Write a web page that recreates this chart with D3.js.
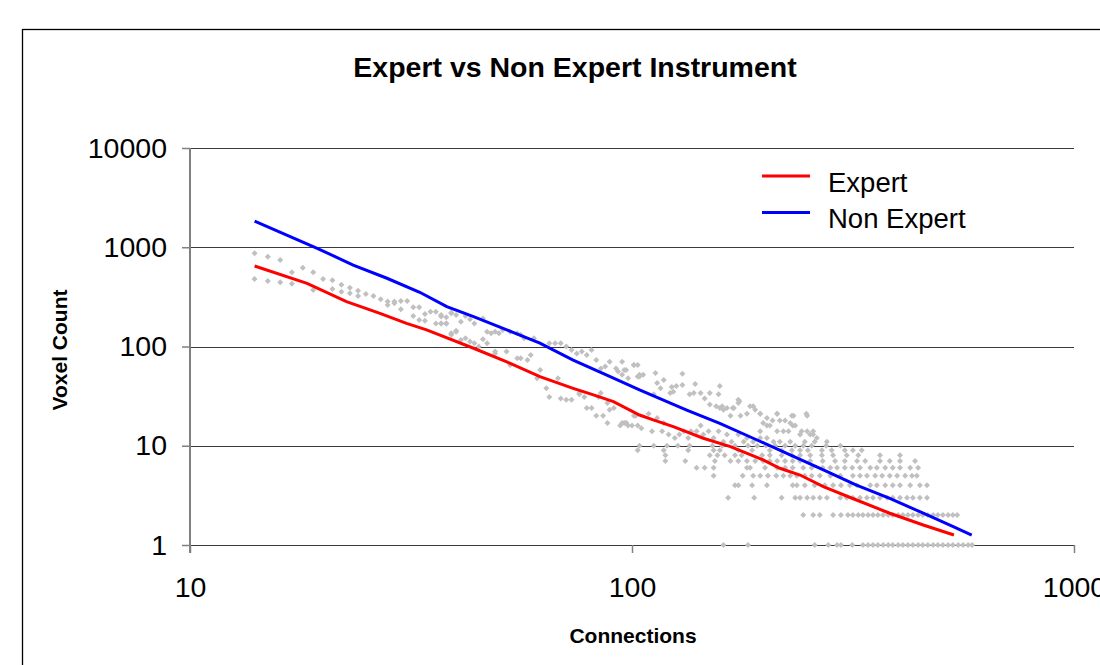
<!DOCTYPE html>
<html>
<head>
<meta charset="utf-8">
<script src="https://cdn.jsdelivr.net/npm/d3@7"></script>
<style>
  html, body { margin: 0; padding: 0; background: #fff; }
  svg { display: block; }
  text { font-family: "Liberation Sans", Arial, sans-serif; }
</style>
</head>
<body>
<svg id="chart" width="1100" height="665"></svg>
<script>
// ---------- DATA ----------
const chartTitle = "Expert vs Non Expert Instrument";
const xTitle = "Connections";
const yTitle = "Voxel Count";
const xTicks = [10, 100, 1000];
const yTicks = [1, 10, 100, 1000, 10000];
const seriesNames = ["Expert", "Non Expert"];

// trend lines
const expertConn = [14, 18.4, 22.6, 26.9, 30.9, 34.3, 43.8, 52.1, 61.9, 73.6, 81.8, 90.8, 104, 111.7, 124, 145, 167, 198, 216, 240, 271, 322, 383, 456, 535];
const expertVox  = [647, 433, 283, 216, 171, 147, 96, 70, 49.6, 37.9, 32.5, 27.8, 20.4, 18.2, 15.6, 11.9, 9.8, 7.2, 5.93, 5.07, 3.87, 2.84, 2.09, 1.59, 1.26];
const nonExpertConn = [14, 19.4, 23.4, 27.9, 33.1, 38.1, 43.8, 52.1, 61.9, 73.6, 87.7, 104, 133, 158, 188, 224, 271, 322, 383, 456, 533, 587];
const nonExpertVox  = [1838, 976, 662, 487, 352, 252, 200, 147, 108, 73, 51.6, 36.5, 22.9, 16.8, 11.9, 8.4, 5.7, 4.02, 2.95, 2.09, 1.53, 1.26];

// raw observations [connections, voxels] (grey diamonds)
const pointsLow = [[14,869],[14,479],[15,803],[15,457],[16,744],[16,443],[17,559],[17,430],[18,622],[19,559],[19,371],[20,479],[21,465],[21,380],[22,420],[22,357],[23,391],[23,344],[24,365],[24,323],[25,338],[26,323],[27,299],[28,262],[28,284],[29,284],[29,273],[30,287],[30,237],[31,287],[32,248],[32,203],[33,248],[33,185],[34,182],[34,212],[35,224],[36,224],[36,171],[37,171],[37,200],[38,171],[38,197],[39,219],[39,131],[40,144]];
const pointsMidUpper = [[37,208],[38,171],[39,216],[40,208],[41,178],[42,203],[43,188],[44,171],[46,192],[47,141],[48,136],[49,141],[50,136],[51,147],[53,141],[55,136],[57,121],[60,121],[65,108],[67,108],[69,108],[71,100],[73,92],[75,85],[77,89],[79,82],[81,92],[83,73],[85,60],[87,63],[89,70],[92,60],[93,56],[95,70],[96,58],[98,48],[101,65],[103,50],[104,52]];
const pointsMidLower = [[37,171],[38,171],[39,136],[40,141],[41,116],[42,121],[43,112],[44,108],[45,100],[46,118],[47,108],[49,85],[49,89],[52,89],[53,65],[55,76],[56,76],[56,131],[58,73],[59,82],[61,48],[62,58],[64,38],[65,31],[68,48],[69,30],[71,29],[73,29],[76,34],[76,33],[78,31],[79,24],[81,24],[83,20],[84,31],[85,34],[86,20],[88,27],[88,17],[89,23],[91,24],[94,16],[96,17],[97,17],[98,16],[101,20],[103,16]];
const pointsHighUpper = [[101,65],[103,65],[97,58],[95,52],[106,52],[104,50],[113,54],[118,46],[130,53],[114,43],[123,39],[126,40],[130,41],[112,33],[116,38],[122,34],[124,35],[135,33],[139,42],[138,34],[143,34],[146,30],[150,34],[157,33],[158,40],[155,25],[160,25],[161,23],[164,24],[167,20],[170,24],[174,29],[174,27],[176,20],[182,21],[188,25],[190,23],[195,21],[198,17],[202,19],[205,16],[213,21],[216,18],[222,18],[228,17],[232,20],[234,16],[242,14],[248,21],[253,13],[257,14],[262,12],[226,14],[213,14]];
const pointsHighLower = [[95,17],[97,17],[100,16],[102,20],[105,15],[109,21],[111,14],[114,19],[117,14],[118,17],[121,13],[125,12],[128,13],[131,14],[134,12],[136,14],[140,14],[143,16],[145,13],[149,14],[153,12],[157,14],[161,11],[164,13],[168,11],[174,13],[179,11],[182,12],[188,11],[195,12],[202,12],[209,11],[216,11],[228,11],[246,11],[259,11]];
const pointsTop = [[150,26],[158,24],[169,24],[175,28],[185,25],[195,21],[213,21],[230,20],[249,20],[208,18],[231,16],[249,14],[257,13],[220,14],[240,13],[195,14],[202,16],[276,11]];

// integer voxel counts at high connection values
const level1  = [161,183,259,278,291,297,315,333,342,351,360,370,380,389,400,410,421,432,444,455,467,480,492,505,519,532,547,561,576,588];
const level2  = [244,257,266,285,297,308,316,325,333,342,351,360,370,380,389,400,410,421,432,444,455,467,480,492,505,519,532,544];
const level3  = [165,189,218,234,240,249,257,266,276,296,306,316,328,340,351,364,378,389,404,419,432,448,465];
const level4  = [171,174,187,202,231,236,246,259,273,285,297,311,323,346,358,374,389,404,426,448,465];
const level5  = [153,178,188,195,203,212,220,228,236,246,255,266,281,296,316,328,340,355,368,383,398,415,430,441];
const level6  = [140,146,153,182,185,200,213,222,231,244,255,270,281,291,303,315,328,346,358,374,389,404,426,444];
const level7  = [119,132,154,167,174,182,190,198,205,213,222,231,240,253,270,288,303,323,337,364,383,404,437];
const level8  = [119,150,156,162,171,177,197,205,218,230,240,253,269,285,306,325,364,404];
const level9  = [103,118,134,153,158,174,187,205,218,230,240,250,269,283,303,316,331];
const level10 = [104,112,120,127,135,152,160,171,183,192,201,211,222,234,244,255,275,296];

// ---------- DRAW ----------
const svg = d3.select("#chart");
const x = d3.scaleLog().domain([10, 1000]).range([190, 1074]);
const y = d3.scaleLog().domain([1, 10000]).range([545, 148]);

// outer chart border
svg.append("rect").attr("x", 22.5).attr("y", 29.5).attr("width", 1200).attr("height", 800)
  .attr("fill", "#fff").attr("stroke", "#000").attr("stroke-width", 1.3);

// title
svg.append("text").attr("x", 575).attr("y", 77).attr("text-anchor", "middle")
  .attr("font-size", 28.5).attr("font-weight", "bold").attr("fill", "#000").text(chartTitle);

// gridlines
svg.append("g").selectAll("line").data(yTicks).join("line")
  .attr("x1", 190).attr("x2", 1074)
  .attr("y1", d => Math.round(y(d)) + 0.5).attr("y2", d => Math.round(y(d)) + 0.5)
  .attr("stroke", "#3a3a3a").attr("stroke-width", 1.2);

// y axis
const yAxis = svg.append("g").attr("transform", "translate(190,0)")
  .call(d3.axisLeft(y).tickValues(yTicks).tickSize(8).tickPadding(15).tickFormat(d3.format("d")));
yAxis.select(".domain").attr("stroke", "#808080").attr("stroke-width", 2)
  .attr("d", `M0,${y(10000)}V${y(1) + 8}`);
yAxis.selectAll(".tick line").attr("stroke", "#808080").attr("stroke-width", 1.5);
yAxis.selectAll(".tick text").attr("font-size", 28.5).attr("fill", "#000")
  .attr("font-family", "Liberation Sans, Arial, sans-serif");

// x axis
const xAxis = svg.append("g").attr("transform", "translate(0,545)")
  .call(d3.axisBottom(x).tickValues(xTicks).tickSize(8).tickPadding(24).tickFormat(d3.format("d")));
xAxis.select(".domain").remove();
xAxis.selectAll(".tick line").attr("stroke", "#808080").attr("stroke-width", 1.5);
xAxis.selectAll(".tick text").attr("font-size", 28.5).attr("fill", "#000")
  .attr("font-family", "Liberation Sans, Arial, sans-serif");

// axis titles
svg.append("text").attr("x", 633).attr("y", 643).attr("text-anchor", "middle")
  .attr("font-size", 21).attr("font-weight", "bold").text(xTitle);
svg.append("text").attr("transform", "translate(67,350) rotate(-90)").attr("text-anchor", "middle")
  .attr("font-size", 21).attr("font-weight", "bold").text(yTitle);

// scatter points
const levels = [level1, level2, level3, level4, level5, level6, level7, level8, level9, level10];
let allPoints = [].concat(pointsLow, pointsMidUpper, pointsMidLower, pointsHighUpper, pointsHighLower, pointsTop);
levels.forEach((arr, i) => arr.forEach(c => allPoints.push([c, i + 1])));
const diamond = "M0,-3L3,0L0,3L-3,0Z";
svg.append("g").selectAll("path").data(allPoints).join("path")
  .attr("d", diamond)
  .attr("transform", d => `translate(${x(d[0])},${y(d[1])})`)
  .attr("fill", "#c0c0c0");

// trend lines
const line = d3.line().x(d => x(d[0])).y(d => y(d[1]));
const expertData = expertConn.map((c, i) => [c, expertVox[i]]);
const nonExpertData = nonExpertConn.map((c, i) => [c, nonExpertVox[i]]);
svg.append("path").datum(expertData).attr("d", line)
  .attr("fill", "none").attr("stroke", "#ff0000").attr("stroke-width", 3);
svg.append("path").datum(nonExpertData).attr("d", line)
  .attr("fill", "none").attr("stroke", "#0000ff").attr("stroke-width", 3);

// legend
const legendColors = ["#ff0000", "#0000ff"];
const lg = svg.append("g");
seriesNames.forEach((name, i) => {
  const ly = 176 + i * 36.5;
  lg.append("line").attr("x1", 762).attr("x2", 810).attr("y1", ly).attr("y2", ly)
    .attr("stroke", legendColors[i]).attr("stroke-width", 3);
  lg.append("text").attr("x", 828).attr("y", ly + 15.5).attr("font-size", 27.5)
    .attr("fill", "#000").text(name);
});
</script>
</body>
</html>
